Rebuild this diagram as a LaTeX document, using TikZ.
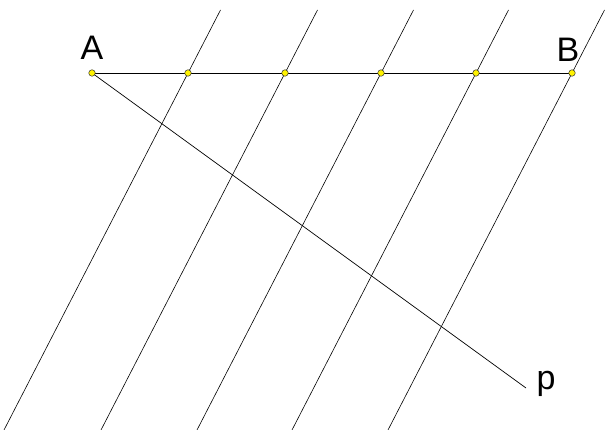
\documentclass[tikz,border=0pt]{standalone}
\usepackage{fontspec}
\setmainfont{Liberation Sans}
\usepackage{tikz}
\usetikzlibrary{positioning,calc,backgrounds}
\tikzset{
  dot/.style={circle,draw=black!80,fill=yellow,inner sep=0pt,
              minimum size=6.5pt,line width=0.5pt},
  seg/.style={line width=0.7pt,black},
  par/.style={line width=0.6pt,black},
  lbl/.style={font=\fontsize{34}{34}\selectfont,inner sep=0pt},
}
\begin{document}
\begin{tikzpicture}[x=1pt,y=-1pt]
  \useasboundingbox (0,0) rectangle (605,430);
  % points on AB
  \node[dot] (A) at (92,73) {};
  \node[dot] (m1) at (188,73) {};
  \node[dot] (m2) at (285,73) {};
  \node[dot] (m3) at (381,73) {};
  \node[dot] (m4) at (476,73) {};
  \node[dot] (B) at (572,73) {};
  \node[lbl] (lA) at (92,48) {A};
  \node[lbl] (lB) at (568,50) {B};
  % ends of the parallels
  \coordinate (t1) at ($(m1)+(32.5,-63)$);
  \coordinate (b1) at ($(m1)+(-184,357)$);
  \coordinate (t2) at ($(m2)+(32.5,-63)$);
  \coordinate (b2) at ($(m2)+(-184,357)$);
  \coordinate (t3) at ($(m3)+(32.5,-63)$);
  \coordinate (b3) at ($(m3)+(-184,357)$);
  \coordinate (t4) at ($(m4)+(32.5,-63)$);
  \coordinate (b4) at ($(m4)+(-184,357)$);
  \coordinate (t5) at ($(B)+(32.5,-63)$);
  \coordinate (b5) at ($(B)+(-184,357)$);
  \coordinate (pend) at (526,388);
  \node[lbl] (lp) at (546,384) {p};
  \begin{scope}[on background layer]
    \draw[seg] (A.center) -- (B.center);
    \draw[seg] (A.center) -- (pend);
    \draw[par] (t1) -- (b1);
    \draw[par] (t2) -- (b2);
    \draw[par] (t3) -- (b3);
    \draw[par] (t4) -- (b4);
    \draw[par] (t5) -- (b5);
  \end{scope}
\end{tikzpicture}
\end{document}
